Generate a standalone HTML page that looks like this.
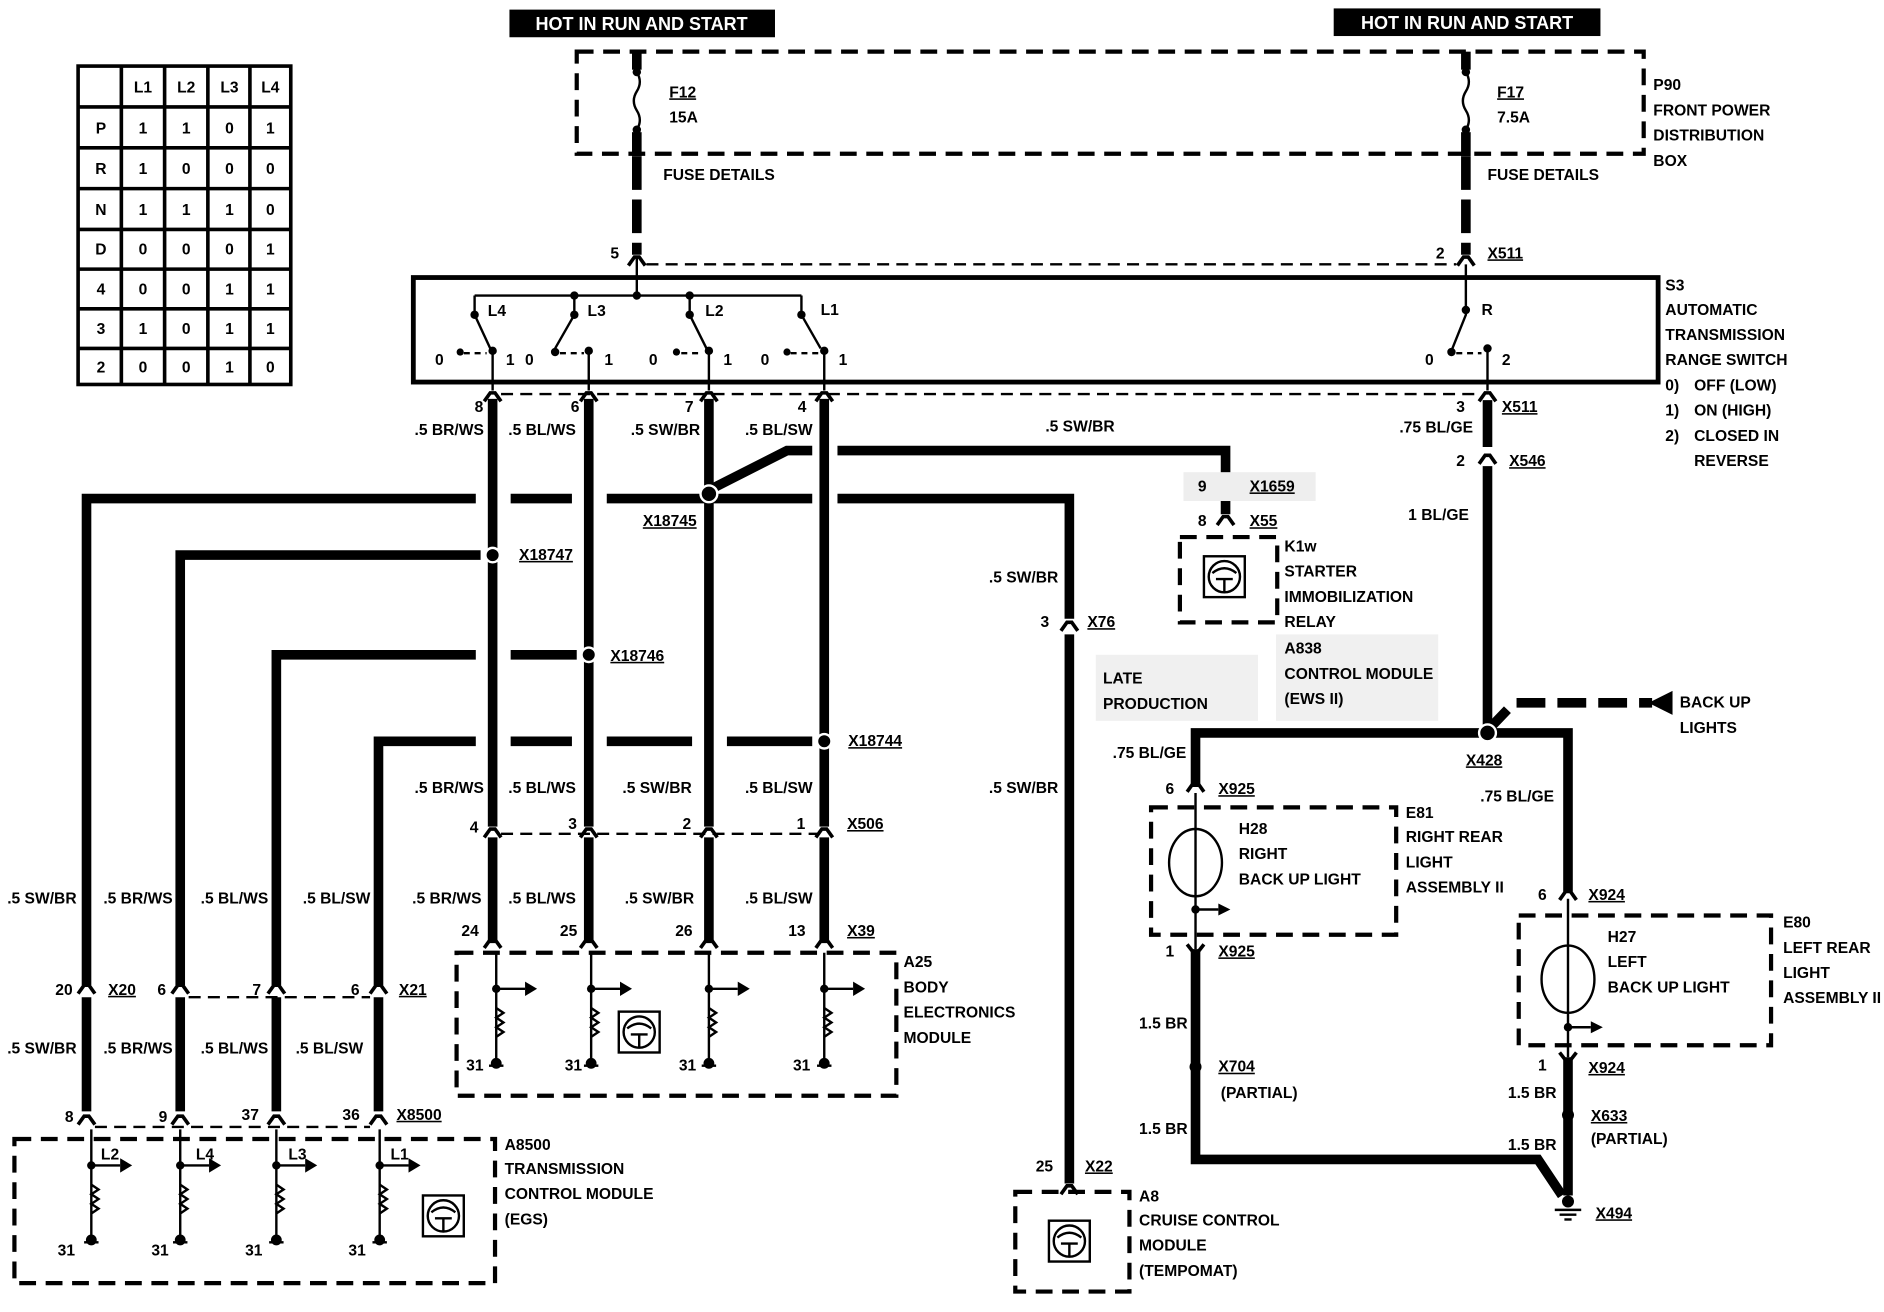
<!DOCTYPE html>
<html><head><meta charset="utf-8">
<style>
html,body{margin:0;padding:0;background:#fff;}
svg{display:block;}
text{font-family:"Liberation Sans",sans-serif;font-size:13px;font-weight:bold;fill:#000;}
.w{stroke:#000;stroke-width:8;fill:none;}
.t{stroke:#000;stroke-width:2;fill:none;}
.d{stroke:#000;stroke-width:3.5;fill:none;stroke-dasharray:14 8;}
.dl{stroke:#000;stroke-width:2;fill:none;stroke-dasharray:10 6;}
.u{text-decoration:underline;}
</style></head><body>
<svg width="1884" height="1312" viewBox="0 0 1568 1092" preserveAspectRatio="none" xmlns="http://www.w3.org/2000/svg">
<defs>
<g id="con"><path d="M-7,9 L-2,2 L0,2 L2,2 L7,9" stroke="#000" stroke-width="3" fill="none"/></g>
<g id="chan">
 <line x1="0" y1="0" x2="0" y2="92" class="t"/>
 <circle cx="0" cy="30" r="3.5"/>
 <line x1="0" y1="30" x2="24" y2="30" class="t"/>
 <path d="M24,24 L34,30 L24,36Z"/>
 <path d="M0,46 l6,4 l-6,4 l6,4 l-6,4 l6,4 l-6,4" class="t"/>
 <circle cx="0" cy="92" r="4.5"/>
 <line x1="-6" y1="94" x2="6" y2="94" stroke="#000" stroke-width="2"/>
</g>
<g id="ecu">
 <rect x="0" y="0" width="34" height="34" fill="#fff" stroke="#000" stroke-width="2"/>
 <circle cx="17" cy="17" r="13" class="t"/>
 <path d="M7,14 Q17,6 27,14 M10,19 L24,19 M17,19 L17,30" class="t"/>
</g>
</defs>

<!-- table -->
<g stroke="#000" stroke-width="3" fill="none">
<rect x="65" y="55" width="177" height="265"/>
<line x1="101" y1="55" x2="101" y2="320"/><line x1="137" y1="55" x2="137" y2="320"/>
<line x1="173" y1="55" x2="173" y2="320"/><line x1="208" y1="55" x2="208" y2="320"/>
<line x1="65" y1="89" x2="242" y2="89"/><line x1="65" y1="123" x2="242" y2="123"/>
<line x1="65" y1="157" x2="242" y2="157"/><line x1="65" y1="191" x2="242" y2="191"/>
<line x1="65" y1="224" x2="242" y2="224"/><line x1="65" y1="257" x2="242" y2="257"/>
<line x1="65" y1="290" x2="242" y2="290"/>
</g>
<g text-anchor="middle">
<text x="119" y="77">L1</text><text x="155" y="77">L2</text><text x="191" y="77">L3</text><text x="225" y="77">L4</text>
<text x="84" y="111">P</text><text x="119" y="111">1</text><text x="155" y="111">1</text><text x="191" y="111">0</text><text x="225" y="111">1</text>
<text x="84" y="145">R</text><text x="119" y="145">1</text><text x="155" y="145">0</text><text x="191" y="145">0</text><text x="225" y="145">0</text>
<text x="84" y="179">N</text><text x="119" y="179">1</text><text x="155" y="179">1</text><text x="191" y="179">1</text><text x="225" y="179">0</text>
<text x="84" y="212">D</text><text x="119" y="212">0</text><text x="155" y="212">0</text><text x="191" y="212">0</text><text x="225" y="212">1</text>
<text x="84" y="245">4</text><text x="119" y="245">0</text><text x="155" y="245">0</text><text x="191" y="245">1</text><text x="225" y="245">1</text>
<text x="84" y="278">3</text><text x="119" y="278">1</text><text x="155" y="278">0</text><text x="191" y="278">1</text><text x="225" y="278">1</text>
<text x="84" y="310">2</text><text x="119" y="310">0</text><text x="155" y="310">0</text><text x="191" y="310">1</text><text x="225" y="310">0</text>
</g>

<!-- HOT labels -->
<rect x="424" y="8" width="221" height="23"/>
<text x="534" y="25" text-anchor="middle" style="fill:#fff;font-size:15px">HOT IN RUN AND START</text>
<rect x="1110" y="7" width="222" height="23"/>
<text x="1221" y="24" text-anchor="middle" style="fill:#fff;font-size:15px">HOT IN RUN AND START</text>

<!-- P90 -->
<path d="M480,43 H1368 V128 H480 Z" class="d"/>
<line x1="530" y1="43" x2="530" y2="58" class="w" stroke-width="5"/>
<circle cx="530" cy="60" r="3.5"/><circle cx="530" cy="108" r="3.5"/>
<path d="M530,60 q5,8 0,16 q-5,8 0,16 q5,8 0,16" class="t"/>
<line x1="530" y1="110" x2="530" y2="130" class="w"/>
<text x="557" y="81" class="u">F12</text>
<text x="557" y="102">15A</text>
<line x1="1220" y1="43" x2="1220" y2="58" class="w" stroke-width="5"/>
<circle cx="1220" cy="60" r="3.5"/><circle cx="1220" cy="108" r="3.5"/>
<path d="M1220,60 q5,8 0,16 q-5,8 0,16 q5,8 0,16" class="t"/>
<line x1="1220" y1="110" x2="1220" y2="130" class="w"/>
<text x="1246" y="81" class="u">F17</text>
<text x="1246" y="102">7.5A</text>
<text x="1376" y="75">P90</text>
<text x="1376" y="96">FRONT POWER</text>
<text x="1376" y="117">DISTRIBUTION</text>
<text x="1376" y="138">BOX</text>

<!-- fuse details -->
<line x1="530" y1="130" x2="530" y2="212" class="w" stroke-dasharray="28 8"/>
<line x1="1220" y1="130" x2="1220" y2="212" class="w" stroke-dasharray="28 8"/>
<text x="552" y="150">FUSE DETAILS</text><text x="1238" y="150">FUSE DETAILS</text>
<use href="#con" x="530" y="212"/><use href="#con" x="1220" y="212"/>
<text x="508" y="215">5</text><text x="1195" y="215">2</text><text x="1238" y="215" class="u">X511</text>
<line x1="538" y1="220" x2="1212" y2="220" class="dl"/>

<!-- S3 box -->
<rect x="344" y="231" width="1036" height="87" fill="none" stroke="#000" stroke-width="4"/>
<line x1="530" y1="214" x2="530" y2="246" class="t"/>
<line x1="395" y1="246" x2="667" y2="246" class="t"/>
<circle cx="530" cy="246" r="3.5"/><circle cx="478" cy="246" r="3.5"/><circle cx="574" cy="246" r="3.5"/>
<g class="t">
<path d="M395,246 V262 L408,290"/><path d="M478,246 V262 L462,290"/><path d="M574,246 V262 L588,290"/><path d="M667,246 V262 L683,290"/>
<path d="M410,292 V325 M490,292 V325 M590,292 V325 M686,292 V325"/>
<path d="M1220,220 V262 L1208,292"/><path d="M1238,290 V325"/>
</g>
<g>
<circle cx="395" cy="262" r="3.5"/><circle cx="478" cy="262" r="3.5"/><circle cx="574" cy="262" r="3.5"/><circle cx="667" cy="262" r="3.5"/><circle cx="1220" cy="258" r="3.5"/>
<circle cx="410" cy="292" r="3.5"/><circle cx="490" cy="292" r="3.5"/><circle cx="590" cy="292" r="3.5"/><circle cx="686" cy="292" r="3.5"/><circle cx="1238" cy="290" r="3.5"/>
<circle cx="383" cy="293" r="3"/><circle cx="462" cy="293" r="3.5"/><circle cx="563" cy="293" r="3"/><circle cx="655" cy="293" r="3"/><circle cx="1208" cy="293" r="3.5"/>
</g>
<g class="t" stroke-dasharray="5 4"><path d="M386,294 H405 M466,294 H486 M567,294 H585 M658,294 H681 M1212,294 H1233"/></g>
<text x="406" y="263">L4</text><text x="489" y="263">L3</text><text x="587" y="263">L2</text><text x="683" y="262">L1</text><text x="1233" y="262">R</text>
<text x="362" y="304">0</text><text x="421" y="304">1</text><text x="437" y="304">0</text><text x="503" y="304">1</text>
<text x="540" y="304">0</text><text x="602" y="304">1</text><text x="633" y="304">0</text><text x="698" y="304">1</text>
<text x="1186" y="304">0</text><text x="1250" y="304">2</text>
<text x="1386" y="242">S3</text><text x="1386" y="262">AUTOMATIC</text><text x="1386" y="283">TRANSMISSION</text><text x="1386" y="304">RANGE SWITCH</text>
<text x="1386" y="325">0)</text><text x="1410" y="325">OFF (LOW)</text>
<text x="1386" y="346">1)</text><text x="1410" y="346">ON (HIGH)</text>
<text x="1386" y="367">2)</text><text x="1410" y="367">CLOSED IN</text><text x="1410" y="388">REVERSE</text>

<g><use href="#con" x="410" y="325"/><use href="#con" x="490" y="325"/><use href="#con" x="590" y="325"/><use href="#con" x="686" y="325"/><use href="#con" x="1238" y="325"/></g>
<line x1="417" y1="328" x2="1230" y2="328" class="dl"/>
<text x="395" y="343">8</text><text x="475" y="343">6</text><text x="570" y="343">7</text><text x="664" y="343">4</text>
<text x="1212" y="343">3</text><text x="1250" y="343" class="u">X511</text>

<g class="w">
<line x1="410" y1="332" x2="410" y2="688"/><line x1="490" y1="332" x2="490" y2="688"/>
<line x1="590" y1="332" x2="590" y2="688"/><line x1="686" y1="332" x2="686" y2="688"/>
<line x1="410" y1="697" x2="410" y2="785"/><line x1="490" y1="697" x2="490" y2="785"/>
<line x1="590" y1="697" x2="590" y2="785"/><line x1="686" y1="697" x2="686" y2="785"/>
</g>
<text x="345" y="362">.5 BR/WS</text><text x="423" y="362">.5 BL/WS</text><text x="525" y="362">.5 SW/BR</text><text x="620" y="362">.5 BL/SW</text>

<g class="w">
<path d="M72,820 V415 H396"/>
<line x1="425" y1="415" x2="476" y2="415"/>
<line x1="505" y1="415" x2="676" y2="415"/>
<path d="M697,415 H890 V515"/>
<path d="M590,408 L655,375 H676"/>
<path d="M697,375 H1020 V428"/>
<path d="M150,820 V462 H400"/>
<path d="M230,820 V545 H396 M425,545 H480"/>
<path d="M315,820 V617 H396 M425,617 H476 M505,617 H576 M605,617 H676"/>
<line x1="890" y1="528" x2="890" y2="985"/>
</g>
<circle cx="590" cy="411" r="7" fill="#000" stroke="#fff" stroke-width="2"/>
<circle cx="410" cy="462" r="6" stroke="#fff" stroke-width="2"/>
<circle cx="490" cy="545" r="6" stroke="#fff" stroke-width="2"/>
<circle cx="686" cy="617" r="6" stroke="#fff" stroke-width="2"/>
<text x="535" y="438" class="u">X18745</text><text x="432" y="466" class="u">X18747</text>
<text x="508" y="550" class="u">X18746</text><text x="706" y="621" class="u">X18744</text>
<text x="870" y="359">.5 SW/BR</text>
<text x="823" y="485">.5 SW/BR</text><text x="823" y="660">.5 SW/BR</text>
<use href="#con" x="890" y="516"/><text x="866" y="522">3</text><text x="905" y="522" class="u">X76</text>

<g><use href="#con" x="410" y="688"/><use href="#con" x="490" y="688"/><use href="#con" x="590" y="688"/><use href="#con" x="686" y="688"/></g>
<line x1="417" y1="694" x2="680" y2="694" class="dl"/>
<text x="391" y="693">4</text><text x="473" y="690">3</text><text x="568" y="690">2</text><text x="663" y="690">1</text><text x="705" y="690" class="u">X506</text>
<text x="345" y="660">.5 BR/WS</text><text x="423" y="660">.5 BL/WS</text><text x="518" y="660">.5 SW/BR</text><text x="620" y="660">.5 BL/SW</text>
<text x="343" y="752">.5 BR/WS</text><text x="423" y="752">.5 BL/WS</text><text x="520" y="752">.5 SW/BR</text><text x="620" y="752">.5 BL/SW</text>

<g><use href="#con" x="410" y="780"/><use href="#con" x="490" y="780"/><use href="#con" x="590" y="780"/><use href="#con" x="686" y="780"/></g>
<text x="384" y="779">24</text><text x="466" y="779">25</text><text x="562" y="779">26</text><text x="656" y="779">13</text><text x="705" y="779" class="u">X39</text>
<path d="M380,793 H746 V912 H380 Z" class="d"/>
<use href="#chan" x="413" y="793"/><use href="#chan" x="492" y="793"/><use href="#chan" x="590" y="793"/><use href="#chan" x="686" y="793"/>
<use href="#ecu" x="515" y="842"/>
<text x="388" y="891">31</text><text x="470" y="891">31</text><text x="565" y="891">31</text><text x="660" y="891">31</text>
<text x="752" y="805">A25</text><text x="752" y="826">BODY</text><text x="752" y="847">ELECTRONICS</text><text x="752" y="868">MODULE</text>

<g class="w"><line x1="72" y1="830" x2="72" y2="925"/><line x1="150" y1="830" x2="150" y2="925"/><line x1="230" y1="830" x2="230" y2="925"/><line x1="315" y1="830" x2="315" y2="925"/></g>
<g><use href="#con" x="72" y="818"/><use href="#con" x="150" y="818"/><use href="#con" x="230" y="818"/><use href="#con" x="315" y="818"/></g>
<line x1="157" y1="830" x2="308" y2="830" class="dl"/>
<text x="46" y="828">20</text><text x="90" y="828" class="u">X20</text><text x="131" y="828">6</text><text x="210" y="828">7</text><text x="292" y="828">6</text><text x="332" y="828" class="u">X21</text>
<text x="6" y="752">.5 SW/BR</text><text x="86" y="752">.5 BR/WS</text><text x="167" y="752">.5 BL/WS</text><text x="252" y="752">.5 BL/SW</text>
<text x="6" y="877">.5 SW/BR</text><text x="86" y="877">.5 BR/WS</text><text x="167" y="877">.5 BL/WS</text><text x="246" y="877">.5 BL/SW</text>

<g><use href="#con" x="72" y="927"/><use href="#con" x="150" y="927"/><use href="#con" x="230" y="927"/><use href="#con" x="315" y="927"/></g>
<line x1="79" y1="938" x2="308" y2="938" class="dl"/>
<text x="54" y="934">8</text><text x="132" y="934">9</text><text x="201" y="932">37</text><text x="285" y="932">36</text><text x="330" y="932" class="u">X8500</text>
<path d="M12,948 H412 V1068 H12 Z" class="d"/>
<use href="#chan" x="76" y="940"/><use href="#chan" x="150" y="940"/><use href="#chan" x="230" y="940"/><use href="#chan" x="316" y="940"/>
<text x="84" y="965">L2</text><text x="163" y="965">L4</text><text x="240" y="965">L3</text><text x="325" y="965">L1</text>
<use href="#ecu" x="352" y="995"/>
<text x="48" y="1045">31</text><text x="126" y="1045">31</text><text x="204" y="1045">31</text><text x="290" y="1045">31</text>
<text x="420" y="957">A8500</text><text x="420" y="977">TRANSMISSION</text><text x="420" y="998">CONTROL MODULE</text><text x="420" y="1019">(EGS)</text>

<use href="#con" x="890" y="985"/>
<text x="862" y="975">25</text><text x="903" y="975" class="u">X22</text>
<path d="M845,992 H940 V1075 H845 Z" class="d"/>
<use href="#ecu" x="873" y="1016"/>
<text x="948" y="1000">A8</text><text x="948" y="1020">CRUISE CONTROL</text><text x="948" y="1041">MODULE</text><text x="948" y="1062">(TEMPOMAT)</text>

<rect x="985" y="393" width="110" height="24" fill="#eee"/>
<text x="997" y="409">9</text><text x="1040" y="409" class="u">X1659</text>
<use href="#con" x="1020" y="428"/>
<text x="997" y="438">8</text><text x="1040" y="438" class="u">X55</text>
<path d="M982,447 H1063 V518 H982 Z" class="d"/>
<use href="#ecu" x="1002" y="463"/>
<text x="1069" y="459">K1w</text><text x="1069" y="480">STARTER</text><text x="1069" y="501">IMMOBILIZATION</text><text x="1069" y="522">RELAY</text>
<rect x="912" y="545" width="135" height="55" fill="#f0f0f0"/>
<rect x="1062" y="528" width="135" height="72" fill="#f0f0f0"/>
<text x="918" y="569">LATE</text><text x="918" y="590">PRODUCTION</text>
<text x="1069" y="544">A838</text><text x="1069" y="565">CONTROL MODULE</text><text x="1069" y="586">(EWS II)</text>

<use href="#con" x="1238" y="377"/>
<text x="1226" y="360" text-anchor="end">.75 BL/GE</text>
<text x="1212" y="388">2</text><text x="1256" y="388" class="u">X546</text>
<text x="1172" y="433">1 BL/GE</text>
<g class="w">
<line x1="1238" y1="333" x2="1238" y2="372"/>
<line x1="1238" y1="388" x2="1238" y2="610"/>
<path d="M995,655 V610 H1305 V742"/>
<path d="M1238,608 L1260,585 H1375" stroke-dasharray="24 10"/>
<path d="M995,790 V965 H1280 L1300,995"/>
<path d="M1305,880 V995"/>
</g>
<path d="M1372,585 L1392,575 V595 Z"/>
<circle cx="1238" cy="610" r="7" stroke="#fff" stroke-width="2"/>
<text x="1398" y="589">BACK UP</text><text x="1398" y="610">LIGHTS</text>
<text x="1220" y="637" class="u">X428</text>
<text x="926" y="631">.75 BL/GE</text><text x="1232" y="667">.75 BL/GE</text>
<use href="#con" x="995" y="650"/><text x="970" y="661">6</text><text x="1014" y="661" class="u">X925</text>
<path d="M958,672 H1162 V778 H958 Z" class="d"/>
<line x1="995" y1="660" x2="995" y2="790" class="t"/>
<ellipse cx="995" cy="718" rx="22" ry="28" class="t"/>
<circle cx="995" cy="757" r="3.5"/><line x1="995" y1="757" x2="1014" y2="757" class="t"/><path d="M1014,752 L1024,757 L1014,762Z"/>
<text x="1031" y="694">H28</text><text x="1031" y="715">RIGHT</text><text x="1031" y="736">BACK UP LIGHT</text>
<text x="1170" y="681">E81</text><text x="1170" y="701">RIGHT REAR</text><text x="1170" y="722">LIGHT</text><text x="1170" y="743">ASSEMBLY II</text>
<path d="M988,786 L995,795 L1002,786" stroke="#000" stroke-width="3" fill="none"/>
<text x="970" y="796">1</text><text x="1014" y="796" class="u">X925</text>
<text x="948" y="856">1.5 BR</text><text x="948" y="944">1.5 BR</text>
<circle cx="995" cy="888" r="5"/><text x="1014" y="892" class="u">X704</text><text x="1016" y="914">(PARTIAL)</text>

<use href="#con" x="1305" y="740"/><text x="1280" y="749">6</text><text x="1322" y="749" class="u">X924</text>
<path d="M1264,762 H1474 V870 H1264 Z" class="d"/>
<line x1="1305" y1="748" x2="1305" y2="880" class="t"/>
<ellipse cx="1305" cy="815" rx="22" ry="28" class="t"/>
<circle cx="1305" cy="855" r="3.5"/><line x1="1305" y1="855" x2="1324" y2="855" class="t"/><path d="M1324,850 L1334,855 L1324,860Z"/>
<text x="1338" y="784">H27</text><text x="1338" y="805">LEFT</text><text x="1338" y="826">BACK UP LIGHT</text>
<text x="1484" y="772">E80</text><text x="1484" y="793">LEFT REAR</text><text x="1484" y="814">LIGHT</text><text x="1484" y="835">ASSEMBLY II</text>
<path d="M1298,876 L1305,885 L1312,876" stroke="#000" stroke-width="3" fill="none"/>
<text x="1280" y="891">1</text><text x="1322" y="893" class="u">X924</text>
<text x="1255" y="914">1.5 BR</text><text x="1255" y="957">1.5 BR</text>
<circle cx="1305" cy="928" r="5"/><text x="1324" y="933" class="u">X633</text><text x="1324" y="952">(PARTIAL)</text>
<circle cx="1305" cy="1000" r="5"/>
<line x1="1294" y1="1007" x2="1316" y2="1007" stroke="#000" stroke-width="2"/><line x1="1298" y1="1011" x2="1312" y2="1011" stroke="#000" stroke-width="2"/><line x1="1302" y1="1015" x2="1308" y2="1015" stroke="#000" stroke-width="2"/>
<text x="1328" y="1014" class="u">X494</text>
</svg>
</body></html>
